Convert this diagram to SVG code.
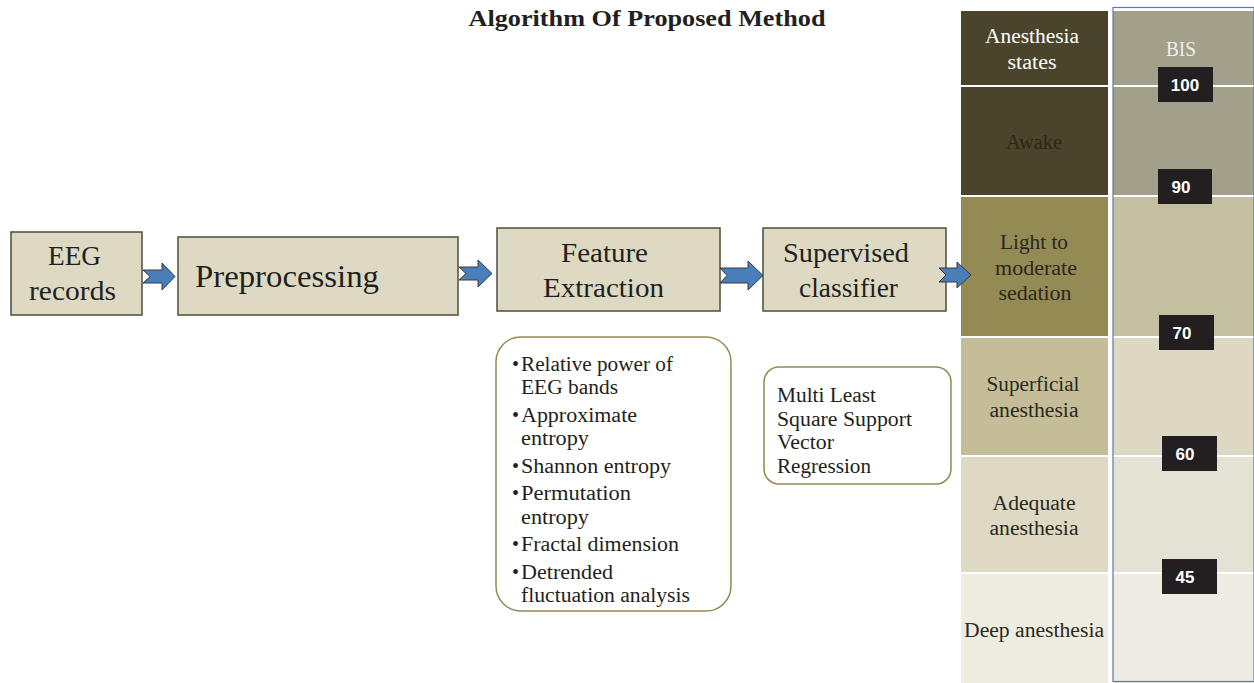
<svg xmlns="http://www.w3.org/2000/svg" width="1254" height="683" viewBox="0 0 1254 683">
<style>
.box{fill:#ddd9c3;stroke:#4f4c3a;stroke-width:1.5}
.rbox{fill:#ffffff;stroke:#948a54;stroke-width:1.5}
.t{font-family:"Liberation Serif","DejaVu Serif",serif;fill:#231f20}
.arrow{fill:#4a7ebb;stroke:#3a3a3a;stroke-width:1}
.lbl{fill:#231f20}
.num{font-family:"Liberation Sans","DejaVu Sans",sans-serif;font-weight:bold;font-size:17px;fill:#ffffff;text-anchor:middle}
.cell{font-family:"Liberation Serif","DejaVu Serif",serif;font-size:20px;text-anchor:middle;fill:#2b2820}
.sep{stroke:#ffffff;stroke-width:2}
</style>
<rect width="1254" height="683" fill="#ffffff"/>
<text class="t" x="647" y="26" font-size="24" font-weight="bold" text-anchor="middle" textLength="357" lengthAdjust="spacingAndGlyphs">Algorithm Of Proposed Method</text>

<g id="table">
  <rect x="961" y="11" width="147" height="75" fill="#4a452a"/>
  <rect x="961" y="86" width="147" height="110" fill="#4a452a"/>
  <rect x="961" y="196" width="147" height="141" fill="#948a54"/>
  <rect x="961" y="337" width="147" height="119" fill="#c4bd97"/>
  <rect x="961" y="456" width="147" height="117" fill="#ddd9c3"/>
  <rect x="961" y="573" width="147" height="110" fill="#eeece1"/>
  <rect x="1113" y="11" width="141" height="185" fill="#a29f8a"/>
  <rect x="1113" y="196" width="141" height="141" fill="#c5bfa1"/>
  <rect x="1113" y="337" width="141" height="119" fill="#dcd8c4"/>
  <rect x="1113" y="456" width="141" height="117" fill="#e4e2d4"/>
  <rect x="1113" y="573" width="141" height="110" fill="#eeece2"/>
  <line class="sep" x1="961" y1="86" x2="1254" y2="86"/>
  <line class="sep" x1="961" y1="196" x2="1254" y2="196"/>
  <line class="sep" x1="961" y1="337" x2="1254" y2="337"/>
  <line class="sep" x1="961" y1="456" x2="1254" y2="456"/>
  <line class="sep" x1="961" y1="573" x2="1254" y2="573"/>
  <rect x="1113" y="7.5" width="141" height="674" fill="none" stroke="#5b7aa6" stroke-width="1.2"/>
  <text class="cell" x="1032" y="43" style="fill:#ffffff" textLength="94" lengthAdjust="spacingAndGlyphs">Anesthesia</text>
  <text class="cell" x="1032" y="69" style="fill:#ffffff" textLength="49" lengthAdjust="spacingAndGlyphs">states</text>
  <text class="cell" x="1034" y="149" style="fill:#2a2718" textLength="56" lengthAdjust="spacingAndGlyphs">Awake</text>
  <text class="cell" x="1034" y="249" textLength="68" lengthAdjust="spacingAndGlyphs">Light to</text>
  <text class="cell" x="1036" y="275" textLength="82" lengthAdjust="spacingAndGlyphs">moderate</text>
  <text class="cell" x="1035" y="300" textLength="73" lengthAdjust="spacingAndGlyphs">sedation</text>
  <text class="cell" x="1033" y="391" textLength="93" lengthAdjust="spacingAndGlyphs">Superficial</text>
  <text class="cell" x="1034" y="417" textLength="89" lengthAdjust="spacingAndGlyphs">anesthesia</text>
  <text class="cell" x="1034" y="510" textLength="83" lengthAdjust="spacingAndGlyphs">Adequate</text>
  <text class="cell" x="1034" y="535" textLength="89" lengthAdjust="spacingAndGlyphs">anesthesia</text>
  <text class="cell" x="1034" y="637" textLength="140" lengthAdjust="spacingAndGlyphs">Deep anesthesia</text>
  <text class="cell" x="1181" y="56" style="fill:#eeeeee" textLength="30" lengthAdjust="spacingAndGlyphs">BIS</text>
</g>

<g id="bis-labels">
  <rect class="lbl" x="1158" y="67" width="55" height="35"/>
  <text class="num" x="1185" y="91">100</text>
  <rect class="lbl" x="1158" y="169" width="54" height="35"/>
  <text class="num" x="1181" y="193">90</text>
  <rect class="lbl" x="1159" y="315" width="55" height="35"/>
  <text class="num" x="1182" y="339">70</text>
  <rect class="lbl" x="1162" y="436" width="55" height="35"/>
  <text class="num" x="1185" y="460">60</text>
  <rect class="lbl" x="1162" y="559" width="55" height="35"/>
  <text class="num" x="1185" y="583">45</text>
</g>

<g id="eeg">
  <rect class="box" x="11" y="232" width="131" height="83"/>
  <text class="t" x="74.5" y="265" font-size="27" text-anchor="middle" textLength="53" lengthAdjust="spacingAndGlyphs">EEG</text>
  <text class="t" x="72.5" y="300" font-size="27" text-anchor="middle" textLength="87" lengthAdjust="spacingAndGlyphs">records</text>
</g>
<g id="preprocessing">
  <rect class="box" x="178" y="237" width="280" height="78"/>
  <text class="t" x="195" y="287" font-size="32" textLength="184" lengthAdjust="spacingAndGlyphs">Preprocessing</text>
</g>
<g id="feature">
  <rect class="box" x="497" y="228" width="223" height="83"/>
  <text class="t" x="604.5" y="262" font-size="28" text-anchor="middle" textLength="87" lengthAdjust="spacingAndGlyphs">Feature</text>
  <text class="t" x="603.5" y="297" font-size="28" text-anchor="middle" textLength="121" lengthAdjust="spacingAndGlyphs">Extraction</text>
</g>
<g id="classifier">
  <rect class="box" x="763" y="228" width="183" height="83"/>
  <text class="t" x="846" y="262" font-size="28" text-anchor="middle" textLength="126" lengthAdjust="spacingAndGlyphs">Supervised</text>
  <text class="t" x="848.5" y="297" font-size="28" text-anchor="middle" textLength="99" lengthAdjust="spacingAndGlyphs">classifier</text>
</g>

<g id="features-list">
  <rect class="rbox" x="496" y="337" width="235" height="274" rx="25"/>
  <g class="t" font-size="20">
    <text x="512" y="371">•</text>
    <text x="521" y="371" textLength="152" lengthAdjust="spacingAndGlyphs">Relative power of</text>
    <text x="521" y="394" textLength="97" lengthAdjust="spacingAndGlyphs">EEG bands</text>
    <text x="512" y="422">•</text>
    <text x="521" y="422" textLength="116" lengthAdjust="spacingAndGlyphs">Approximate</text>
    <text x="521" y="445" textLength="68" lengthAdjust="spacingAndGlyphs">entropy</text>
    <text x="512" y="473">•</text>
    <text x="521" y="473" textLength="150" lengthAdjust="spacingAndGlyphs">Shannon entropy</text>
    <text x="512" y="500">•</text>
    <text x="521" y="500" textLength="110" lengthAdjust="spacingAndGlyphs">Permutation</text>
    <text x="521" y="524" textLength="68" lengthAdjust="spacingAndGlyphs">entropy</text>
    <text x="512" y="551">•</text>
    <text x="521" y="551" textLength="158" lengthAdjust="spacingAndGlyphs">Fractal dimension</text>
    <text x="512" y="579">•</text>
    <text x="521" y="579" textLength="92" lengthAdjust="spacingAndGlyphs">Detrended</text>
    <text x="521" y="602" textLength="169" lengthAdjust="spacingAndGlyphs">fluctuation analysis</text>
  </g>
</g>
<g id="classifier-detail">
  <rect class="rbox" x="764" y="367" width="187" height="117" rx="15"/>
  <g class="t" font-size="20">
    <text x="777" y="402" textLength="99" lengthAdjust="spacingAndGlyphs">Multi Least</text>
    <text x="777" y="426" textLength="135" lengthAdjust="spacingAndGlyphs">Square Support</text>
    <text x="777" y="449" textLength="57" lengthAdjust="spacingAndGlyphs">Vector</text>
    <text x="777" y="473" textLength="94" lengthAdjust="spacingAndGlyphs">Regression</text>
  </g>
</g>

<g id="connectors">
  <path class="arrow" d="M143,270 L162,270 L162,263 L175,276.5 L162,290 L162,283 L143,283 L150,276.5 Z"/>
  <path class="arrow" d="M459,267 L478,267 L478,260 L492,273.5 L478,287 L478,280 L459,280 L466,273.5 Z"/>
  <path class="arrow" d="M720,268 L748,268 L748,261 L763,275.5 L748,290 L748,283 L720,283 L727,275.5 Z"/>
  <path class="arrow" d="M939,268 L957,268 L957,262 L971,275 L957,288 L957,282 L939,282 L946,275 Z"/>
</g>
</svg>
